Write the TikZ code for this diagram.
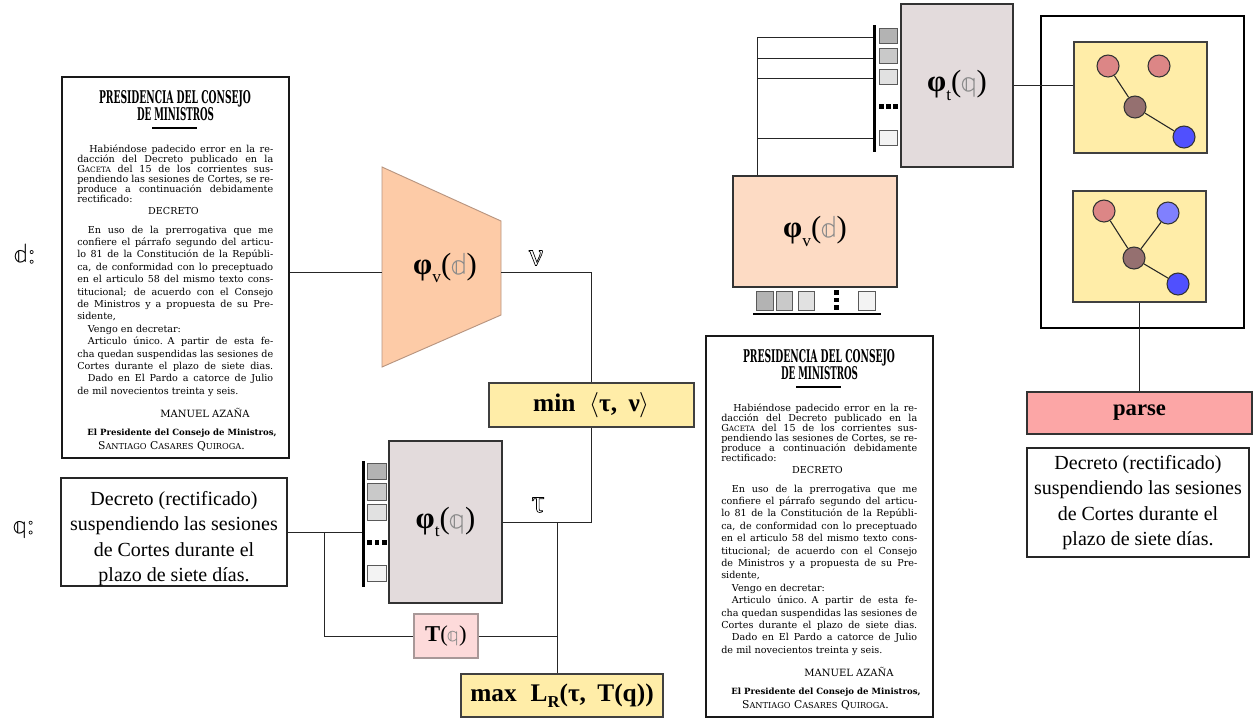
\documentclass[tikz,border=0pt]{standalone}
\usepackage{fontspec}
\setmainfont{Liberation Serif}
\newfontfamily\docfont{DejaVu Serif}
\newfontfamily\lmm{Latin Modern Math}
\definecolor{tzfill}{HTML}{FDCBA7}
\definecolor{tzdraw}{HTML}{B89580}
\definecolor{pvfill}{HTML}{FDDBC4}
\definecolor{ptfill}{HTML}{E3DBDC}
\definecolor{yfill}{HTML}{FFEDA8}
\definecolor{tqfill}{HTML}{FDDADA}
\definecolor{tqdraw}{HTML}{A89898}
\definecolor{parsefill}{HTML}{FCA6A6}
\definecolor{nred}{HTML}{DC8686}
\definecolor{nbrown}{HTML}{957070}
\definecolor{nblue}{HTML}{5050FE}
\definecolor{nlblue}{HTML}{8080FE}
\definecolor{sqA}{HTML}{B3B3B3}
\definecolor{sqB}{HTML}{C9C9C9}
\definecolor{sqC}{HTML}{E1E1E1}
\definecolor{sqD}{HTML}{F3F3F3}
\definecolor{ddgray}{HTML}{8A8A8A}
\newcommand\rbox[6]{\node[#2, minimum width={(#5-#3)*0.75pt}, minimum height={(#6-#4)*0.75pt}] (#1) at ({(#3+#5)/2},{(#4+#6)/2})}
\newcommand\fline[1]{\leavevmode\hbox to 147pt{\spaceskip=0.3em plus 1fil minus 0.08em\relax #1}}
\newcommand\scsz{\fontsize{5.5}{5.5}\selectfont}
\newcommand\hol[1]{\special{pdf:literal direct 1 Tr 0.5 w}#1\special{pdf:literal direct 0 Tr}}
\newcommand\philab[2]{{\bfseries φ}\raisebox{-0.28em}{\fontsize{13}{13}\selectfont #1}(\textcolor{ddgray}{\lmm #2})}
\tikzset{
  conn/.style={draw=black!85, line width=0.75pt},
  docbox/.style={draw=black!90, line width=1pt, fill=white, inner sep=0, rectangle},
  tbox/.style={draw=black!85, line width=0.9pt, fill=white, inner sep=0, align=center, font=\fontsize{15}{19.2}\selectfont},
  ptbox/.style={draw=black!80, line width=0.9pt, fill=ptfill, inner sep=0, font=\fontsize{23}{23}\selectfont},
  pvbox/.style={draw=black!80, line width=0.9pt, fill=pvfill, inner sep=0, font=\fontsize{23}{23}\selectfont},
  ybox/.style={draw=black!75, line width=0.8pt, fill=yfill, inner sep=0, font=\bfseries\fontsize{19}{19}\selectfont},
  tqbox/.style={draw=tqdraw, line width=0.8pt, fill=tqfill, inner sep=0, font=\fontsize{17}{17}\selectfont},
  parsebox/.style={draw=black!80, line width=1pt, fill=parsefill, inner sep=0, font=\bfseries\fontsize{17}{17}\selectfont},
  gbox/.style={draw=black!75, line width=0.9pt, fill=yfill, inner sep=0},
  outerbox/.style={draw=black, line width=1.6pt, inner sep=0},
  sqA/.style={draw=black!65, line width=0.6pt, fill=sqA, inner sep=0},
  sqB/.style={draw=black!65, line width=0.6pt, fill=sqB, inner sep=0},
  sqC/.style={draw=black!65, line width=0.6pt, fill=sqC, inner sep=0},
  sqD/.style={draw=black!65, line width=0.6pt, fill=sqD, inner sep=0},
  barst/.style={fill=black, inner sep=0},
  dotst/.style={fill=black, inner sep=0},
  gn/.style={circle, draw=black!80, line width=0.8pt, minimum size=16.5pt, inner sep=0},
  gedge/.style={draw=black!85, line width=0.8pt},
  dtitle/.style={inner sep=0, anchor=base, font=\docfont\bfseries},
  dpara1/.style={inner sep=0, anchor=base west, text width=147pt, font=\docfont\fontsize{7.2}{7.43}\selectfont},
  dpara2/.style={inner sep=0, anchor=base west, text width=147pt, font=\docfont\fontsize{7.2}{9.3}\selectfont},
  dline/.style={inner sep=0, anchor=base, font=\docfont\fontsize{7.2}{7.2}\selectfont},
  hollab/.style={inner sep=0, font=\fontsize{24}{24}\selectfont},
}
\newcommand\decree[3]{%
\begin{scope}[shift={(#2,#3)}]
\rbox{#1}{docbox}{62}{77}{289}{458}{};
\node[dtitle] (#1ta) at (175,103) {\resizebox{114pt}{9.75pt}{PRESIDENCIA DEL CONSEJO}};
\node[dtitle] (#1tb) at (175.5,120) {\resizebox{57.75pt}{9.75pt}{DE MINISTROS}};
\draw[line width=1pt] (152,128) -- (197,128);
\node[dpara1] (#1pa) at (77,152.5) {%
\fline{\hspace*{9pt}Habiéndose padecido error en la re-}\\
\fline{dacción del Decreto publicado en la}\\
\fline{G{\scsz ACETA} del 15 de los corrientes sus-}\\
\fline{pendiendo las sesiones de Cortes, se re-}\\
\fline{produce a continuación debidamente}\\
rectificado:};
\node[dline] (#1dc) at (173.5,214) {DECRETO};
\node[dpara2] (#1pb) at (77,233) {%
\fline{\hspace*{8pt}En uso de la prerrogativa que me}\\
\fline{confiere el párrafo segundo del articu-}\\
\fline{lo 81 de la Constitución de la Repúbli-}\\
\fline{ca, de conformidad con lo preceptuado}\\
\fline{en el articulo 58 del mismo texto cons-}\\
\fline{titucional; de acuerdo con el Consejo}\\
\fline{de Ministros y a propuesta de su Pre-}\\
sidente,\\
\hspace*{8pt}Vengo en decretar:\\
\fline{\hspace*{8pt}Articulo único. A partir de esta fe-}\\
\fline{cha quedan suspendidas las sesiones de}\\
\fline{Cortes durante el plazo de siete dias.}\\
\fline{\hspace*{8pt}Dado en El Pardo a catorce de Julio}\\
de mil novecientos treinta y seis.};
\node[dline] (#1sa) at (205,417) {\resizebox{67pt}{!}{MANUEL AZAÑA}};
\node[dline] (#1sb) at (182,435) {\resizebox{142pt}{!}{\bfseries El Presidente del Consejo de Ministros,}};
\node[dline] (#1sc) at (171.5,449) {\resizebox{110pt}{!}{S{\scsz ANTIAGO} C{\scsz ASARES} Q{\scsz UIROGA}.}};
\end{scope}}
\begin{document}
\begin{tikzpicture}[x=0.75pt, y=-0.75pt]
\useasboundingbox[fill=white] (0,0) rectangle (1256,719);
% ---------------- left part ----------------
\decree{ld}{0}{0}
\node[inner sep=0, font=\fontsize{20}{20}\selectfont] (dlab) at (25,254) {{\lmm 𝕕}\hol{:}};
\node[inner sep=0, font=\fontsize{20}{20}\selectfont] (qlab) at (24,530) {{\lmm 𝕢}\hol{:}};
% encoder trapezoid
\filldraw[fill=tzfill, draw=tzdraw, line width=0.7pt] (382,167) -- (501,221) -- (501,315) -- (382,367) -- cycle;
\node[inner sep=0, font=\fontsize{23}{23}\selectfont] (tzlab) at (445,268) {\philab{v}{𝕕}};
\coordinate (tzin) at (382,272);
\coordinate (tzout) at (501,272);
\node[hollab] (nulab) at (536,258) {\hol{ν}};
% min box
\rbox{minb}{ybox}{489}{383}{694}{427}{min\hspace{0.55em}{\lmm ⟨}τ,\hspace{0.45em}ν{\lmm ⟩}};
% query box
\rbox{qb}{tbox}{61}{478}{287}{586}{\parbox[c][81pt][t]{169pt}{\centering\rule{0pt}{20.3pt}Decreto (rectificado)\\suspendiendo las sesiones\\de Cortes durante el\\plazo de siete días.}};
% text encoder
\rbox{ptl}{ptbox}{389}{441}{502}{603}{\philab{t}{𝕢}};
\rbox{bar1}{barst}{362}{461}{364.6}{587}{};
\rbox{s1a}{sqA}{367}{463}{386}{479}{};
\rbox{s1b}{sqB}{367}{483}{386}{500}{};
\rbox{s1c}{sqC}{367}{504}{386}{520}{};
\rbox{d1a}{dotst}{367}{540}{371.5}{545}{};
\rbox{d1b}{dotst}{374.5}{540}{379}{545}{};
\rbox{d1c}{dotst}{382}{540}{386.5}{545}{};
\rbox{s1d}{sqD}{367}{565}{386}{581}{};
\node[hollab] (taulab) at (538,505) {\hol{τ}};
\rbox{tq}{tqbox}{414}{614}{478}{658}{{\bfseries T}(\textcolor{ddgray}{\lmm 𝕢})};
\rbox{maxb}{ybox}{461}{674}{663}{717}{max\hspace{0.55em}L\raisebox{-0.25em}{\fontsize{12.5}{12.5}\selectfont R}(τ,\hspace{0.45em}T(q))};
% connectors left
\draw[conn] (ld.east |- tzin) -- (tzin);
\draw[conn] (tzout) -| (minb.north);
\draw[conn] (ptl.east) -| (minb.south);
\coordinate (tj) at (557,0);
\draw[conn] (tj |- ptl.east) -- (tj |- maxb.north);
\draw[conn] (tq.east) -- (tq.east -| tj);
\draw[conn] (qb.east) -- (qb.east -| bar1.west);
\coordinate (br) at (324,0);
\draw[conn] (br |- qb.east) |- (tq.west);
% ---------------- right part ----------------
\decree{rd}{644}{259}
\rbox{pt2}{ptbox}{901}{4}{1013}{167}{\philab{t}{𝕢}};
\rbox{bar2}{barst}{873}{25}{875.6}{152}{};
\rbox{s2a}{sqA}{879}{28}{897}{43}{};
\rbox{s2b}{sqB}{879}{48}{897}{63}{};
\rbox{s2c}{sqC}{879}{69}{897}{84}{};
\rbox{d2a}{dotst}{879}{104}{883.5}{109}{};
\rbox{d2b}{dotst}{886}{104}{890.5}{109}{};
\rbox{d2c}{dotst}{893}{104}{897.5}{109}{};
\rbox{s2d}{sqD}{879}{130}{897}{145}{};
\rbox{pv2}{pvbox}{733}{176}{897}{287}{\philab{v}{𝕕}};
\rbox{s3a}{sqA}{756}{291}{773}{310}{};
\rbox{s3b}{sqB}{776}{291}{792}{310}{};
\rbox{s3c}{sqC}{798}{291}{814}{310}{};
\rbox{d3a}{dotst}{834}{290}{838.5}{294.5}{};
\rbox{d3b}{dotst}{834}{297.5}{838.5}{302}{};
\rbox{d3c}{dotst}{834}{305}{838.5}{309.5}{};
\rbox{s3d}{sqD}{858}{291}{875}{310}{};
\rbox{bar3}{barst}{753}{313}{881}{315.2}{};
\coordinate (f1) at (757,37);
\coordinate (f2) at (757,58);
\coordinate (f3) at (757,78);
\coordinate (f4) at (757,138);
\draw[conn] (f1 |- pv2.north) -- (f1) -- (f1 -| bar2.west);
\draw[conn] (f2) -- (f2 -| bar2.west);
\draw[conn] (f3) -- (f3 -| bar2.west);
\draw[conn] (f4) -- (f4 -| bar2.west);
% graphs
\rbox{outer}{outerbox}{1041}{16}{1244}{328}{};
\rbox{g1}{gbox}{1074}{42}{1207}{153}{};
\rbox{g2}{gbox}{1073}{191}{1206}{302}{};
\node[gn, fill=nred] (a1) at (1108,66) {};
\node[gn, fill=nred] (a2) at (1159,66) {};
\node[gn, fill=nbrown] (a3) at (1135,107) {};
\node[gn, fill=nblue] (a4) at (1184,137) {};
\draw[gedge] (a1) -- (a3);
\draw[gedge] (a3) -- (a4);
\node[gn, fill=nred] (b1) at (1104,211) {};
\node[gn, fill=nlblue] (b2) at (1168,213) {};
\node[gn, fill=nbrown] (b3) at (1134,258) {};
\node[gn, fill=nblue] (b4) at (1178,284) {};
\draw[gedge] (b1) -- (b3);
\draw[gedge] (b2) -- (b3);
\draw[gedge] (b3) -- (b4);
\rbox{parse}{parsebox}{1027}{392}{1252}{434}{parse};
\rbox{rq}{tbox}{1027}{448}{1249}{557}{Decreto (rectificado)\\suspendiendo las sesiones\\de Cortes durante el\\plazo de siete días.};
\draw[conn] (pt2.east) -- (pt2.east -| g1.west);
\draw[conn] (g2.south) -- (g2.south |- parse.north);
\end{tikzpicture}
\end{document}
